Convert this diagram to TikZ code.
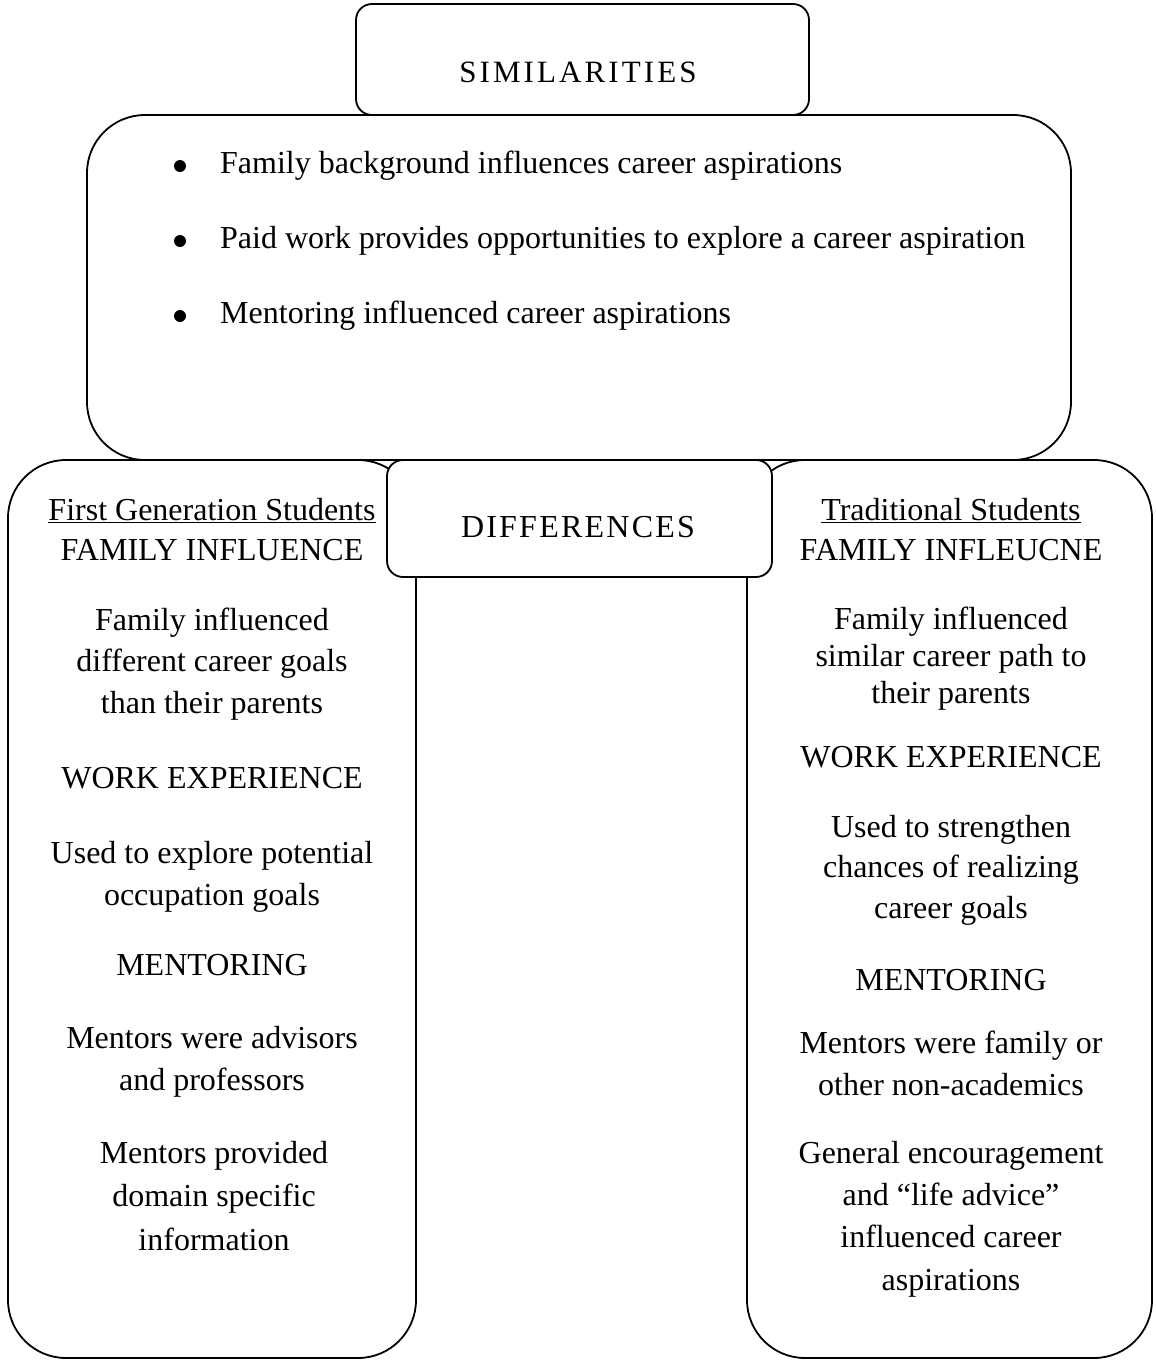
\documentclass[tikz,border=0pt]{standalone}
\usepackage{fontspec}
\setmainfont{Liberation Serif}
\usetikzlibrary{positioning}
\newcommand{\boxline}{1.8pt}
\newcommand{\panelradius}{58pt}
\newcommand{\tabradius}{16pt}
\newcommand{\bodysize}{\fontsize{32}{41.5}\selectfont}
\newcommand{\tightsize}{\fontsize{32}{37}\selectfont}

\tikzset{
  panel/.style={draw, fill=white, line width=\boxline, rounded corners=\panelradius},
  tabbox/.style={draw, fill=white, line width=\boxline, rounded corners=\tabradius},
  txt/.style={inner sep=0pt, align=center, font=\bodysize, anchor=base},
  bulletdot/.style={fill, circle, inner sep=0pt, minimum size=12pt},
}

\begin{document}
\begin{tikzpicture}[x=1pt, y=-1pt]
    \useasboundingbox (0,0) rectangle (1156,1360);

    %Similarities:
    \draw[panel] (87,115) rectangle (1071,460);
    \draw[tabbox] (356,4) rectangle (809,115);
    \node[txt, font=\fontsize{31}{36}\selectfont\addfontfeature{LetterSpace=10}] (simtitle) at (578,82) {SIMILARITIES};

    \node[bulletdot] (bulletA) at (180,166) {};
    \node[bulletdot] (bulletB) at (180,241) {};
    \node[bulletdot] (bulletC) at (180,316) {};
    \node[txt, anchor=base west] (simA) at (220,173) {Family background influences career aspirations};
    \node[txt, anchor=base west] (simB) at (220,248) {Paid work provides opportunities to explore a career aspiration};
    \node[txt, anchor=base west] (simC) at (220,323) {Mentoring influenced career aspirations};

    %Columns:
    \draw[panel] (8,460) rectangle (416,1358);
    \draw[panel] (747,460) rectangle (1152,1358);

    %Differences:
    \draw[tabbox] (387,460) rectangle (772,577);
    \node[txt, font=\fontsize{32}{38}\selectfont\addfontfeature{LetterSpace=7}] (difftitle) at (578,537) {DIFFERENCES};

    %First generation column (base = last line):
    \node[txt, font=\fontsize{32}{40}\selectfont] (firsthead) at (212,560) {\underline{First Generation Students}\\FAMILY INFLUENCE};
    \node[txt] (firstfamily) at (212,713) {Family influenced\\different career goals\\than their parents};
    \node[txt] (firstworkhead) at (212,788) {WORK EXPERIENCE};
    \node[txt] (firstwork) at (212,905) {Used to explore potential\\occupation goals};
    \node[txt] (firstmenthead) at (212,975) {MENTORING};
    \node[txt] (firstmentA) at (212,1090) {Mentors were advisors\\and professors};
    \node[txt, font=\fontsize{32}{43.5}\selectfont] (firstmentB) at (214,1250) {Mentors provided\\domain specific\\information};

    %Traditional column (base = last line):
    \node[txt, font=\fontsize{32}{40}\selectfont] (tradhead) at (951,560) {\underline{Traditional Students}\\FAMILY INFLEUCNE};
    \node[txt, font=\tightsize] (tradfamily) at (951,703) {Family influenced\\similar career path to\\their parents};
    \node[txt] (tradworkhead) at (951,767) {WORK EXPERIENCE};
    \node[txt, font=\fontsize{32}{40.5}\selectfont] (tradwork) at (951,918) {Used to strengthen\\chances of realizing\\career goals};
    \node[txt] (tradmenthead) at (951,990) {MENTORING};
    \node[txt] (tradmentA) at (951,1095) {Mentors were family or\\other non-academics};
    \node[txt, font=\fontsize{32}{42.3}\selectfont] (tradmentB) at (951,1290) {General encouragement\\and “life advice”\\influenced career\\aspirations};
\end{tikzpicture}
\end{document}
